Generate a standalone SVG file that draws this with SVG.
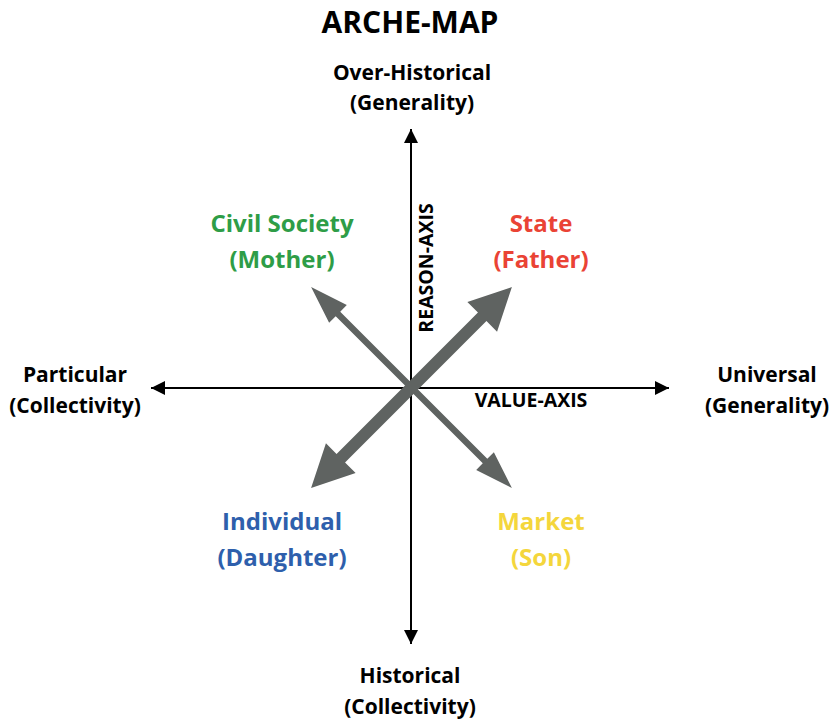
<svg xmlns="http://www.w3.org/2000/svg" width="834" height="722" viewBox="0 0 834 722">
<style>
text{font-family:"Open Sans","Lato","Liberation Sans",sans-serif;font-weight:bold;text-anchor:middle}
.t{font-size:30px;fill:#000}
.ax{font-size:21px;fill:#000}
.lab{font-size:24px}
.al{font-size:19.5px;fill:#000}
.axis{stroke:#000;stroke-width:2;fill:none}
.arr{fill:#5f6361}
</style>
<defs>
<marker id="ah" viewBox="0 0 10 10" refX="10" refY="5" markerWidth="7" markerHeight="7" markerUnits="strokeWidth" orient="auto">
<path d="M0,0 L10,5 L0,10 Z" fill="#000"/>
</marker>
</defs>
<rect width="834" height="722" fill="#fff"/>
<text id="title" class="t" x="410" y="33">ARCHE-MAP</text>
<g id="connectors">
<line class="axis" x1="411" y1="640" x2="411" y2="129" marker-end="url(#ah)"/>
<line class="axis" x1="411" y1="134" x2="411" y2="644" marker-end="url(#ah)"/>
<line class="axis" x1="411" y1="388" x2="669" y2="388" marker-end="url(#ah)"/>
<line class="axis" x1="411" y1="388" x2="151" y2="388" marker-end="url(#ah)"/>
<g transform="translate(411.5,387.5) rotate(45)">
<polygon class="arr" points="-142,0 -104,-12.5 -104,-3.2 104,-3.2 104,-12.5 142,0 104,12.5 104,3.2 -104,3.2 -104,12.5"/>
</g>
<g transform="translate(411.5,387.5) rotate(-45)">
<polygon class="arr" points="-142,0 -100,-21 -100,-6 100,-6 100,-21 142,0 100,21 100,6 -100,6 -100,21"/>
</g>
</g>
<g id="top"><text class="ax" x="412" y="80">Over-Historical</text><text class="ax" x="412" y="110">(Generality)</text></g>
<g id="bottom"><text class="ax" x="410" y="683">Historical</text><text class="ax" x="410" y="714">(Collectivity)</text></g>
<g id="left"><text class="ax" x="75" y="382">Particular</text><text class="ax" x="75" y="413">(Collectivity)</text></g>
<g id="right"><text class="ax" x="767" y="382">Universal</text><text class="ax" x="767" y="413">(Generality)</text></g>
<g id="civil"><text class="lab" x="282" y="232" fill="#2e9d47">Civil Society</text><text class="lab" x="282" y="268" fill="#2e9d47">(Mother)</text></g>
<g id="state"><text class="lab" x="541" y="232" fill="#ea4335">State</text><text class="lab" x="541" y="268" fill="#ea4335">(Father)</text></g>
<g id="individual"><text class="lab" x="282" y="530" fill="#2e5fac">Individual</text><text class="lab" x="282" y="566" fill="#2e5fac">(Daughter)</text></g>
<g id="market"><text class="lab" x="541" y="530" fill="#f4d63c">Market</text><text class="lab" x="541" y="566" fill="#f4d63c">(Son)</text></g>
<text id="reason" class="al" transform="translate(433,268) rotate(-90)">REASON-AXIS</text>
<text id="value" class="al" x="531" y="407">VALUE-AXIS</text>
</svg>
